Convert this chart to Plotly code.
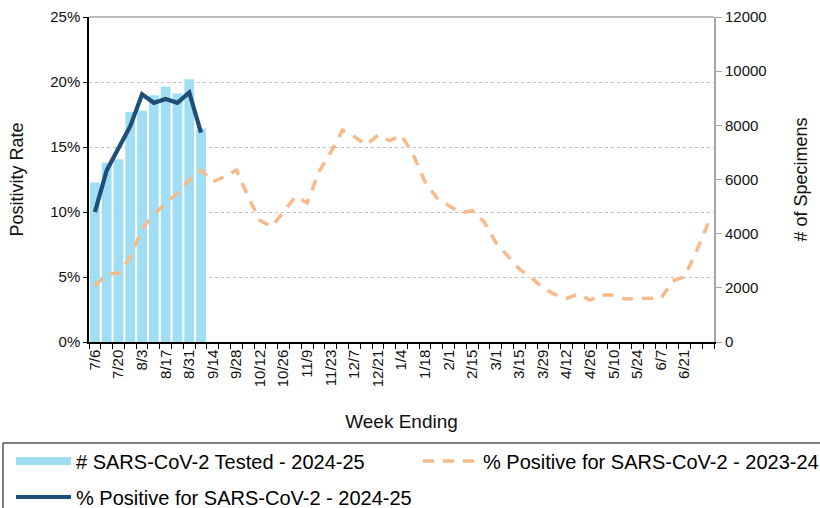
import plotly.graph_objects as go

# ---------------- data ----------------
weeks = ["7/6", "7/13", "7/20", "7/27", "8/3", "8/10", "8/17", "8/24", "8/31",
         "9/7", "9/14", "9/21", "9/28", "10/5", "10/12", "10/19", "10/26",
         "11/2", "11/9", "11/16", "11/23", "11/30", "12/7", "12/14", "12/21",
         "12/28", "1/4", "1/11", "1/18", "1/25", "2/1", "2/8", "2/15", "2/22",
         "3/1", "3/8", "3/15", "3/22", "3/29", "4/5", "4/12", "4/19", "4/26",
         "5/3", "5/10", "5/17", "5/24", "5/31", "6/7", "6/14", "6/21", "6/28", "7/5"]

tick_label_weeks = ["7/6", "7/20", "8/3", "8/17", "8/31", "9/14", "9/28", "10/12",
                    "10/26", "11/9", "11/23", "12/7", "12/21", "1/4", "1/18", "2/1",
                    "2/15", "3/1", "3/15", "3/29", "4/12", "4/26", "5/10", "5/24",
                    "6/7", "6/21"]

tested_2024_25 = [5890, 6620, 6750, 8490, 8540, 9110, 9430, 9180, 9700, 7880]

pos_2024_25 = [10.0, 13.2, 14.9, 16.6, 19.05, 18.4, 18.7, 18.4, 19.2, 16.1]

pos_2023_24 = [4.31, 5.23, 5.28, 6.5, 8.7, 9.8, 10.67, 11.44, 12.46, 13.23,
               12.33, 12.72, 13.23, 11.18, 9.35, 8.87, 10.0, 11.2, 10.7, 13.1,
               14.6, 16.3, 15.8, 15.15, 15.9, 15.5, 15.9, 14.4, 12.3, 11.1,
               10.5, 9.95, 10.1, 9.25, 7.65, 6.6, 5.6, 4.97, 4.13, 3.67,
               3.36, 3.69, 3.23, 3.62, 3.62, 3.3, 3.36, 3.36, 3.36, 4.69,
               5.03, 6.95, 9.13]

name_tested = "# SARS-CoV-2 Tested - 2024-25"
name_2324 = "% Positive for SARS-CoV-2 - 2023-24"
name_2425 = "% Positive for SARS-CoV-2 - 2024-25"

# ---------------- style ----------------
FONT = "Liberation Sans, Arial, sans-serif"
BAR = "#A0DEF6"
NAVY = "#1F4E79"
ORANGE = "#F8BA8A"
TXT = "#111111"

W, H = 820, 508
ML, MR, MT, MB = 89, 106, 17, 166
PW, PH = W - ML - MR, H - MT - MB


def px_x(p):
    return (p - ML) / PW


def px_y(p):
    return (H - MB - p) / PH


ticktext = [w if w in tick_label_weeks else "" for w in weeks]

fig = go.Figure()

fig.add_trace(go.Bar(
    x=weeks[:len(tested_2024_25)], y=tested_2024_25,
    marker=dict(color=BAR, line=dict(width=0)),
    yaxis="y", name=name_tested, showlegend=False,
))
# legend swatch for the bar series (wide flat rectangle like the original)
fig.add_trace(go.Scatter(
    x=[None], y=[None], mode="lines",
    line=dict(color=BAR, width=8), name=name_tested,
    yaxis="y", legend="legend",
))
fig.add_trace(go.Scatter(
    x=weeks[:len(pos_2023_24)], y=pos_2023_24, mode="lines",
    line=dict(color=ORANGE, width=3.5, dash="11px,9px"),
    name=name_2324, yaxis="y2", legend="legend2",
))
fig.add_trace(go.Scatter(
    x=weeks[:len(pos_2024_25)], y=pos_2024_25, mode="lines",
    line=dict(color=NAVY, width=4.2),
    name=name_2425, yaxis="y2", legend="legend3",
))

legend_common = dict(
    xanchor="left", yanchor="middle", itemwidth=55,
    font=dict(family=FONT, size=20, color="#000000"),
    bgcolor="rgba(0,0,0,0)", borderwidth=0,
)

fig.update_layout(
    width=W, height=H, template="none",
    margin=dict(l=ML, r=MR, t=MT, b=MB, autoexpand=False),
    paper_bgcolor="white", plot_bgcolor="white",
    font=dict(family=FONT, color=TXT),
    bargap=0.17,
    xaxis=dict(
        type="category", categoryorder="array", categoryarray=weeks,
        range=[-0.5, len(weeks) - 0.5],
        tickmode="array", tickvals=weeks, ticktext=ticktext,
        tickson="boundaries", ticks="outside", ticklen=5, tickcolor="#000000",
        tickangle=-90, tickfont=dict(size=15, color=TXT, family=FONT),
        showline=True, linecolor="#000000", linewidth=1.5,
        showgrid=False, zeroline=False,
        title=dict(text="Week Ending", font=dict(size=19, color=TXT, family=FONT), standoff=28),
    ),
    yaxis=dict(
        side="right", range=[0, 12000], dtick=2000, tickformat="d",
        showgrid=False, zeroline=False,
        showline=True, linecolor="#A6A6A6", linewidth=2,
        ticks="outside", ticklen=6, tickcolor="#A6A6A6",
        tickfont=dict(size=15, color=TXT, family=FONT),
        title=dict(text="# of Specimens", font=dict(size=18, color=TXT, family=FONT), standoff=29),
    ),
    yaxis2=dict(
        overlaying="y", anchor="x", side="left",
        range=[0, 25], dtick=5, ticksuffix="%",
        showgrid=True, gridcolor="#BFBFBF", griddash="dot", gridwidth=1,
        zeroline=False,
        showline=True, linecolor="#000000", linewidth=1.5,
        ticks="outside", ticklen=4, tickcolor="#000000",
        tickfont=dict(size=15, color=TXT, family=FONT),
        title=dict(text="Positivity Rate", font=dict(size=18, color=TXT, family=FONT), standoff=22),
    ),
    legend=dict(x=px_x(11), y=px_y(461), **legend_common),
    legend2=dict(x=px_x(418), y=px_y(461), **legend_common),
    legend3=dict(x=px_x(11), y=px_y(497), **legend_common),
    shapes=[
        # top border of plot area
        dict(type="line", xref="paper", yref="paper", x0=0, x1=1, y0=1, y1=1,
             line=dict(color="#A6A6A6", width=1.5)),
        # legend frame
        dict(type="rect", xref="paper", yref="paper",
             x0=px_x(3), x1=px_x(826), y0=px_y(443), y1=px_y(520),
             line=dict(color="#000000", width=1), fillcolor="rgba(0,0,0,0)",
             layer="below"),
    ],
)

fig.write_html(
    "out.html",
    config={"displayModeBar": False},
    post_script="document.body.style.margin='0';document.body.style.overflow='hidden';",
)
